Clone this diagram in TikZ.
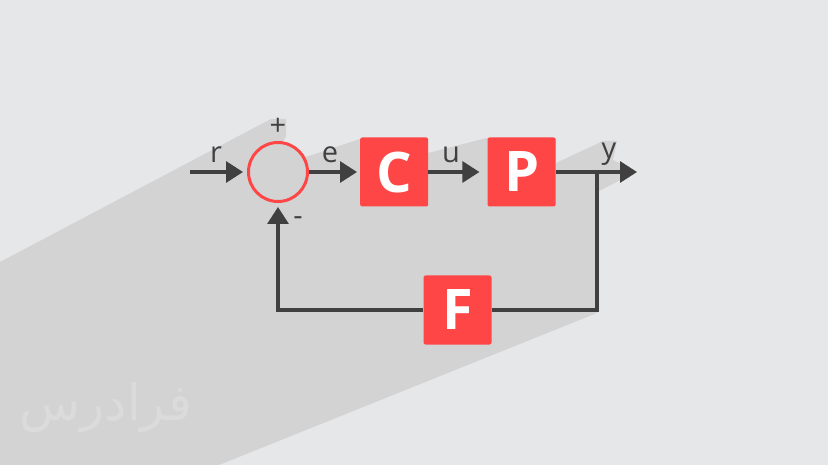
\documentclass[tikz,border=0pt]{standalone}
\usepackage{fontspec}
\setmainfont{Open Sans}
\newfontfamily\arabicfont[Script=Arabic]{DejaVu Sans}
\TeXXeTstate=1
\usetikzlibrary{positioning,arrows.meta}
\definecolor{bggray}{HTML}{E6E7E9}
\definecolor{shadowgray}{HTML}{D3D3D3}
\definecolor{blkred}{HTML}{FF4646}
\definecolor{wire}{HTML}{404040}
\definecolor{markgray}{HTML}{DBDBDB}
\tikzset{
  blk/.style={fill=blkred,rounded corners=2pt,minimum width=68pt,minimum height=69pt,
             inner sep=0pt,text=white,font=\fontsize{56}{60}\selectfont\bfseries},
  sumnode/.style={circle,draw=blkred,line width=3pt,minimum size=59pt,inner sep=0pt},
  sig/.style={-{Triangle[length=17pt,width=21pt]},line width=3.2pt,wire},
  wireline/.style={line width=3.2pt,wire},
  lbl/.style={font=\fontsize{29}{31}\selectfont,text=wire,inner sep=0pt},
}

\begin{document}
\begin{tikzpicture}[x=1pt,y=-1pt]
  % background and long shadow
  \fill[bggray] (0,0) rectangle (828,465);
  \useasboundingbox (0,0) rectangle (828,465);
  \fill[shadowgray] (0,262) -- (271,119) -- (286,119) -- (286,136) -- (283,142)
        -- (300,150) -- (306,157) -- (360,139) -- (428,139) -- (428,153)
        -- (487,138) -- (556,138) -- (556,163) -- (603,141) -- (617,141)
        -- (613,160) -- (622,164) -- (636,172) -- (597,192) -- (597,313)
        -- (219,465) -- (0,465) -- cycle;
  \node[font=\arabicfont\fontsize{50}{56}\selectfont,text=markgray] (mark) at (106,408)
        {\beginR فرادرس\endR};

  % blocks
  \node[sumnode]                  (sum) at (278,172) {};
  \node[blk,right=51pt of sum]    (C) {C};
  \node[blk,right=59pt of C]      (P) {P};
  \node[blk]                      (F) at (457.5,310) {F};

  \coordinate (in)     at (190,172);
  \coordinate (branch) at (597,172);
  \coordinate (out)    at (637,172);

  % signals
  \draw[sig] (in) -- ([xshift=-4pt]sum.west);
  \draw[sig] (sum.east) -- ([xshift=-3pt]C.west);
  \draw[sig] (C.east) -- ([xshift=-8pt]P.west);
  \draw[sig] (P.east) -- (out);
  \draw[wireline] (branch) |- (F.east);
  \draw[sig] (F.west) -| ([yshift=-4pt]sum.south);

  % labels
  \node[lbl,anchor=base] (lr) at (216,163) {r};
  \node[lbl,anchor=base] (le) at (330,163) {e};
  \node[lbl,anchor=base] (lu) at (451,163) {u};
  \node[lbl,anchor=base] (ly) at (609,159) {y};
  \node[lbl] (lplus)  at (278,127) {+};
  \node[lbl] (lminus) at (298,221) {-};
\end{tikzpicture}
\end{document}
